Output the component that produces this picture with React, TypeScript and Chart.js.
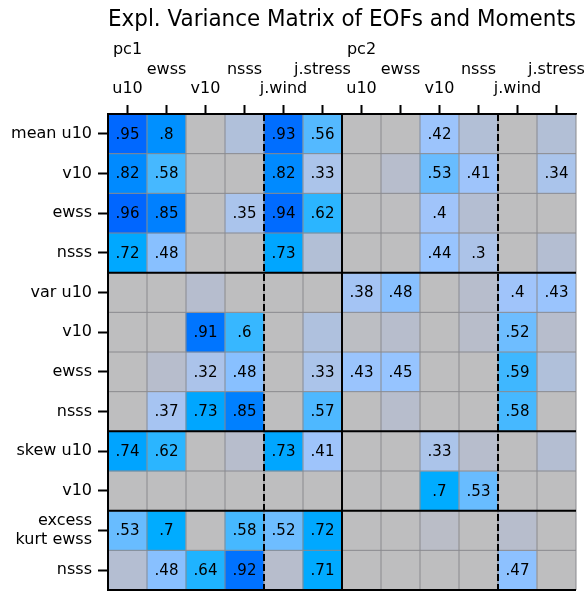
import React, { useEffect, useRef } from 'react';
import { Chart, registerables } from 'chart.js';

Chart.register(...registerables);

const titleText = 'Expl. Variance Matrix of EOFs and Moments';
const colNames = ['u10', 'ewss', 'v10', 'nsss', 'j.wind', 'j.stress', 'u10', 'ewss', 'v10', 'nsss', 'j.wind', 'j.stress'];
const colGroups = ['pc1', '', '', '', '', '', 'pc2', '', '', '', '', ''];
const rowLabels = ['mean u10', 'v10', 'ewss', 'nsss', 'var u10', 'v10', 'ewss', 'nsss', 'skew u10', 'v10', 'excess\nkurt ewss', 'nsss'];

const meanU10 = [0.95, 0.8, 0.05, 0.22, 0.93, 0.56, 0.05, 0.05, 0.42, 0.2, 0.05, 0.2];
const meanV10 = [0.82, 0.58, 0.05, 0.05, 0.82, 0.33, 0.05, 0.15, 0.53, 0.41, 0.05, 0.34];
const meanEwss = [0.96, 0.85, 0.05, 0.35, 0.94, 0.62, 0.05, 0.08, 0.4, 0.18, 0.05, 0.05];
const meanNsss = [0.72, 0.48, 0.05, 0.05, 0.73, 0.2, 0.05, 0.05, 0.44, 0.3, 0.05, 0.18];
const varU10 = [0.05, 0.05, 0.16, 0.05, 0.05, 0.05, 0.38, 0.48, 0.05, 0.15, 0.4, 0.43];
const varV10 = [0.05, 0.05, 0.91, 0.6, 0.05, 0.24, 0.1, 0.15, 0.05, 0.14, 0.52, 0.15];
const varEwss = [0.05, 0.15, 0.32, 0.48, 0.05, 0.33, 0.43, 0.45, 0.05, 0.05, 0.59, 0.22];
const varNsss = [0.05, 0.37, 0.73, 0.85, 0.05, 0.57, 0.05, 0.15, 0.05, 0.05, 0.58, 0.05];
const skewU10 = [0.74, 0.62, 0.05, 0.15, 0.73, 0.41, 0.05, 0.05, 0.33, 0.15, 0.05, 0.18];
const skewV10 = [0.05, 0.05, 0.05, 0.05, 0.05, 0.05, 0.05, 0.05, 0.7, 0.53, 0.05, 0.05];
const kurtEwss = [0.53, 0.7, 0.05, 0.58, 0.52, 0.72, 0.05, 0.05, 0.12, 0.05, 0.15, 0.05];
const kurtNsss = [0.18, 0.48, 0.64, 0.92, 0.15, 0.71, 0.05, 0.05, 0.05, 0.05, 0.47, 0.05];

const matrix = [meanU10, meanV10, meanEwss, meanNsss, varU10, varV10, varEwss, varNsss, skewU10, skewV10, kurtEwss, kurtNsss];

const labelThreshold = 0.3;
const solidRowDividers = [0, 4, 8, 10, 12];
const solidColDividers = [0, 6];
const dashedColDividers = [4, 10];

const FONT = 'DejaVu Sans';

const colorStops: number[][] = [
  [0, 190, 190, 190],
  [0.08, 190, 190, 192],
  [0.15, 183, 189, 204],
  [0.2, 178, 191, 214],
  [0.25, 174, 193, 224],
  [0.3, 172, 195, 232],
  [0.35, 170, 196, 236],
  [0.4, 160, 196, 250],
  [0.45, 150, 196, 255],
  [0.48, 136, 192, 255],
  [0.53, 104, 188, 255],
  [0.57, 78, 184, 255],
  [0.6, 55, 183, 255],
  [0.65, 25, 178, 255],
  [0.7, 0, 172, 255],
  [0.75, 0, 162, 255],
  [0.8, 0, 144, 255],
  [0.85, 0, 128, 255],
  [0.9, 0, 120, 255],
  [0.95, 0, 104, 255],
  [1, 0, 96, 255],
];

function colorFor(v: number): string {
  for (let k = 1; k < colorStops.length; k++) {
    const a = colorStops[k - 1];
    const b = colorStops[k];
    if (v <= b[0]) {
      const t = (v - a[0]) / (b[0] - a[0]);
      const c = [1, 2, 3].map((q) => Math.round(a[q] + (b[q] - a[q]) * Math.max(0, Math.min(1, t))));
      return `rgb(${c[0]},${c[1]},${c[2]})`;
    }
  }
  const l = colorStops[colorStops.length - 1];
  return `rgb(${l[1]},${l[2]},${l[3]})`;
}

function fmt(v: number): string {
  let s = v.toFixed(2).replace(/^0/, '');
  if (s.endsWith('0')) s = s.slice(0, -1);
  return s;
}

function xTickLines(i: number): string[] {
  const name = colNames[i];
  if (i % 2 === 0) {
    return colGroups[i] ? [colGroups[i], '', name] : [name];
  }
  return [name, ''];
}

const matrixPlugin = {
  id: 'matrixOverlay',
  afterDatasetsDraw(chart: any) {
    const { ctx, chartArea, scales } = chart;
    const xs = scales.x;
    const ys = scales.y;
    const nCols = colNames.length;
    const nRows = rowLabels.length;
    ctx.save();
    ctx.strokeStyle = '#8a8a8e';
    ctx.lineWidth = 1;
    for (let j = 0; j <= nCols; j++) {
      const x = xs.getPixelForValue(j - 0.5);
      ctx.beginPath();
      ctx.moveTo(x, chartArea.top);
      ctx.lineTo(x, chartArea.bottom);
      ctx.stroke();
    }
    for (let i = 0; i <= nRows; i++) {
      const y = ys.getPixelForValue(i);
      ctx.beginPath();
      ctx.moveTo(chartArea.left, y);
      ctx.lineTo(chartArea.right, y);
      ctx.stroke();
    }
    ctx.strokeStyle = '#000';
    ctx.lineWidth = 2;
    solidRowDividers.forEach((i) => {
      const y = ys.getPixelForValue(i);
      ctx.beginPath();
      ctx.moveTo(chartArea.left - 1, y);
      ctx.lineTo(chartArea.right, y);
      ctx.stroke();
    });
    solidColDividers.forEach((j) => {
      const x = xs.getPixelForValue(j - 0.5);
      ctx.beginPath();
      ctx.moveTo(x, chartArea.top);
      ctx.lineTo(x, chartArea.bottom);
      ctx.stroke();
    });
    ctx.setLineDash([7, 3]);
    dashedColDividers.forEach((j) => {
      const x = xs.getPixelForValue(j - 0.5);
      ctx.beginPath();
      ctx.moveTo(x, chartArea.top);
      ctx.lineTo(x, chartArea.bottom);
      ctx.stroke();
    });
    ctx.setLineDash([]);
    ctx.fillStyle = '#000';
    ctx.font = `15px "${FONT}"`;
    ctx.textAlign = 'center';
    ctx.textBaseline = 'middle';
    matrix.forEach((row, i) => {
      row.forEach((v, j) => {
        if (v >= labelThreshold) {
          ctx.fillText(fmt(v), xs.getPixelForValue(j), ys.getPixelForValue(i + 0.5) + 1);
        }
      });
    });
    ctx.restore();
  },
};

export default function App() {
  const ref = useRef<HTMLCanvasElement | null>(null);
  useEffect(() => {
    if (!ref.current) return;
    const chart = new Chart(ref.current, {
      type: 'bar',
      data: {
        labels: colNames,
        datasets: matrix.map((row, i) => ({
          label: rowLabels[i],
          data: row.map(() => [i, i + 1]),
          backgroundColor: row.map((v) => colorFor(v)),
          borderWidth: 0,
          grouped: false,
          barPercentage: 1,
          categoryPercentage: 1,
        })) as any,
      },
      options: {
        responsive: false,
        animation: false,
        layout: { padding: { top: 0, right: 9, bottom: 1, left: 0 } },
        plugins: {
          legend: { display: false },
          tooltip: { enabled: false },
          title: {
            display: true,
            text: titleText,
            fullSize: false,
            align: 'end',
            color: '#000',
            font: { family: FONT, size: 22.5, weight: 'normal' as any, lineHeight: 1.2 },
            padding: { top: 7, bottom: 0 },
          },
        },
        scales: {
          x: {
            position: 'top',
            offset: true,
            grid: { offset: false, drawOnChartArea: false, tickLength: 9, tickWidth: 2, tickColor: '#000' },
            border: { display: true, color: '#000', width: 2 },
            ticks: {
              autoSkip: false,
              maxRotation: 0,
              minRotation: 0,
              padding: 6,
              color: '#000',
              font: { family: FONT, size: 16, lineHeight: 1.22 },
              callback: (_v: any, i: number) => xTickLines(i),
            },
            afterFit: (s: any) => {
              s.height = 80;
              s.paddingLeft = 0;
              s.paddingRight = 0;
            },
          },
          y: {
            type: 'linear',
            min: 0,
            max: 12,
            reverse: true,
            afterBuildTicks: (s: any) => {
              s.ticks = rowLabels.map((_, i) => ({ value: i + 0.5 }));
            },
            grid: { drawOnChartArea: false, tickLength: 10, tickWidth: 2, tickColor: '#000' },
            border: { display: true, color: '#000', width: 2 },
            ticks: {
              autoSkip: false,
              padding: 6,
              color: '#000',
              font: { family: FONT, size: 16, lineHeight: 1.2 },
              callback: (v: any) => rowLabels[Math.floor(Number(v))].split('\n'),
            },
            afterFit: (s: any) => {
              s.width = 108;
              s.paddingTop = 0;
              s.paddingBottom = 0;
            },
          },
        },
      } as any,
      plugins: [matrixPlugin],
    });
    return () => chart.destroy();
  }, []);
  return (
    <div style={{ position: 'fixed', left: 0, top: 0, width: 585, height: 591 }}>
      <canvas ref={ref} width={585} height={591} style={{ display: 'block' }} />
    </div>
  );
}
